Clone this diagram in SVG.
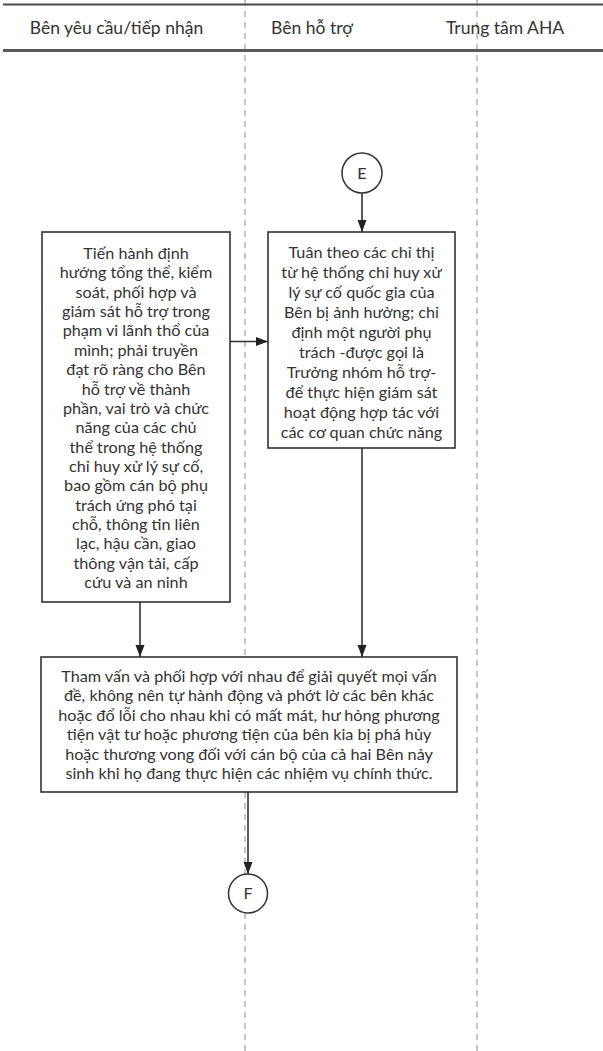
<svg xmlns="http://www.w3.org/2000/svg" width="603" height="1051" viewBox="0 0 603 1051">
<style>
.bg{fill:#ffffff}
.hdr{stroke:#4a4a4a;stroke-width:2;fill:none}
.hdr2{stroke:#5a5a5a;stroke-width:3;fill:none}
.lane{stroke:#b3b3b3;stroke-width:1.5;stroke-dasharray:6 5;fill:none}
.box{fill:#ffffff;stroke:#333333;stroke-width:1.6}
.circ{fill:#ffffff;stroke:#333333;stroke-width:1.5}
.edge{stroke:#333333;stroke-width:1.6;fill:none;marker-end:url(#ah)}
.t{font-family:Lato,"Open Sans","Liberation Sans",sans-serif;font-size:16.2px;fill:#333333;text-anchor:middle}
.h{font-family:Lato,"Open Sans","Liberation Sans",sans-serif;font-size:17.5px;fill:#333333;text-anchor:middle}
</style>
<defs>
<marker id="ah" markerWidth="12" markerHeight="16" refX="16" refY="6" orient="auto" markerUnits="userSpaceOnUse" viewBox="0 0 16 12">
<path d="M0,0 L16,6 L0,12 Z" fill="#222222"/>
</marker>
</defs>
<rect class="bg" x="0" y="0" width="603" height="1051"/>
<g id="lanes">
<line class="lane" x1="245" y1="0" x2="245" y2="1051"/>
<line class="lane" x1="477" y1="0" x2="477" y2="1051"/>
<line class="hdr" x1="3" y1="4.5" x2="603" y2="4.5"/>
<line class="hdr2" x1="3" y1="50.5" x2="603" y2="50.5"/>
<text class="h" x="116.5" y="34">Bên yêu cầu/tiếp nhận</text>
<text class="h" x="312" y="34">Bên hỗ trợ</text>
<text class="h" x="505" y="34">Trung tâm AHA</text>
</g>
<g id="connectors">
<line class="edge" x1="362" y1="193" x2="362" y2="232"/>
<line class="edge" x1="230" y1="341.5" x2="268" y2="341.5"/>
<line class="edge" x1="140" y1="602" x2="140" y2="657"/>
<line class="edge" x1="362" y1="448" x2="362" y2="657"/>
<line class="edge" x1="248" y1="792" x2="248" y2="874"/>
</g>
<g id="nodeE">
<circle class="circ" cx="362" cy="173" r="20"/>
<text class="t" x="362" y="178.5">E</text>
</g>
<g id="nodeLeft">
<rect class="box" x="42" y="232" width="188" height="370"/>
<text class="t" x="136" y="259">Tiến hành định</text>
<text class="t" x="136" y="278.4">hướng tổng thể, kiểm</text>
<text class="t" x="136" y="297.7">soát, phối hợp và</text>
<text class="t" x="136" y="317.1">giám sát hỗ trợ trong</text>
<text class="t" x="136" y="336.4">phạm vi lãnh thổ của</text>
<text class="t" x="136" y="355.8">mình; phải truyền</text>
<text class="t" x="136" y="375.1">đạt rõ ràng cho Bên</text>
<text class="t" x="136" y="394.5">hỗ trợ về thành</text>
<text class="t" x="136" y="413.8">phần, vai trò và chức</text>
<text class="t" x="136" y="433.2">năng của các chủ</text>
<text class="t" x="136" y="452.5">thể trong hệ thống</text>
<text class="t" x="136" y="471.9">chỉ huy xử lý sự cố,</text>
<text class="t" x="136" y="491.2">bao gồm cán bộ phụ</text>
<text class="t" x="136" y="510.6">trách ứng phó tại</text>
<text class="t" x="136" y="529.9">chỗ, thông tin liên</text>
<text class="t" x="136" y="549.3">lạc, hậu cần, giao</text>
<text class="t" x="136" y="568.6">thông vận tải, cấp</text>
<text class="t" x="136" y="588">cứu và an ninh</text>
</g>
<g id="nodeRight">
<rect class="box" x="268" y="232" width="187" height="216"/>
<text class="t" x="361.5" y="258">Tuân theo các chỉ thị</text>
<text class="t" x="361.5" y="278">từ hệ thống chỉ huy xử</text>
<text class="t" x="361.5" y="298">lý sự cố quốc gia của</text>
<text class="t" x="361.5" y="318">Bên bị ảnh hưởng; chỉ</text>
<text class="t" x="361.5" y="338">định một người phụ</text>
<text class="t" x="361.5" y="358">trách -được gọi là</text>
<text class="t" x="361.5" y="378">Trưởng nhóm hỗ trợ-</text>
<text class="t" x="361.5" y="398">để thực hiện giám sát</text>
<text class="t" x="361.5" y="418">hoạt động hợp tác với</text>
<text class="t" x="361.5" y="438">các cơ quan chức năng</text>
</g>
<g id="nodeBottom">
<rect class="box" x="41" y="657" width="416" height="135"/>
<text class="t" x="249" y="681.5">Tham vấn và phối hợp với nhau để giải quyết mọi vấn</text>
<text class="t" x="249" y="701">đề, không nên tự hành động và phớt lờ các bên khác</text>
<text class="t" x="249" y="720.5">hoặc đổ lỗi cho nhau khi có mất mát, hư hỏng phương</text>
<text class="t" x="249" y="740">tiện vật tư hoặc phương tiện của bên kia bị phá hủy</text>
<text class="t" x="249" y="759.5">hoặc thương vong đối với cán bộ của cả hai Bên nảy</text>
<text class="t" x="249" y="779">sinh khi họ đang thực hiện các nhiệm vụ chính thức.</text>
</g>
<g id="nodeF">
<circle class="circ" cx="248" cy="893.5" r="19.5"/>
<text class="t" x="248" y="899">F</text>
</g>
</svg>
